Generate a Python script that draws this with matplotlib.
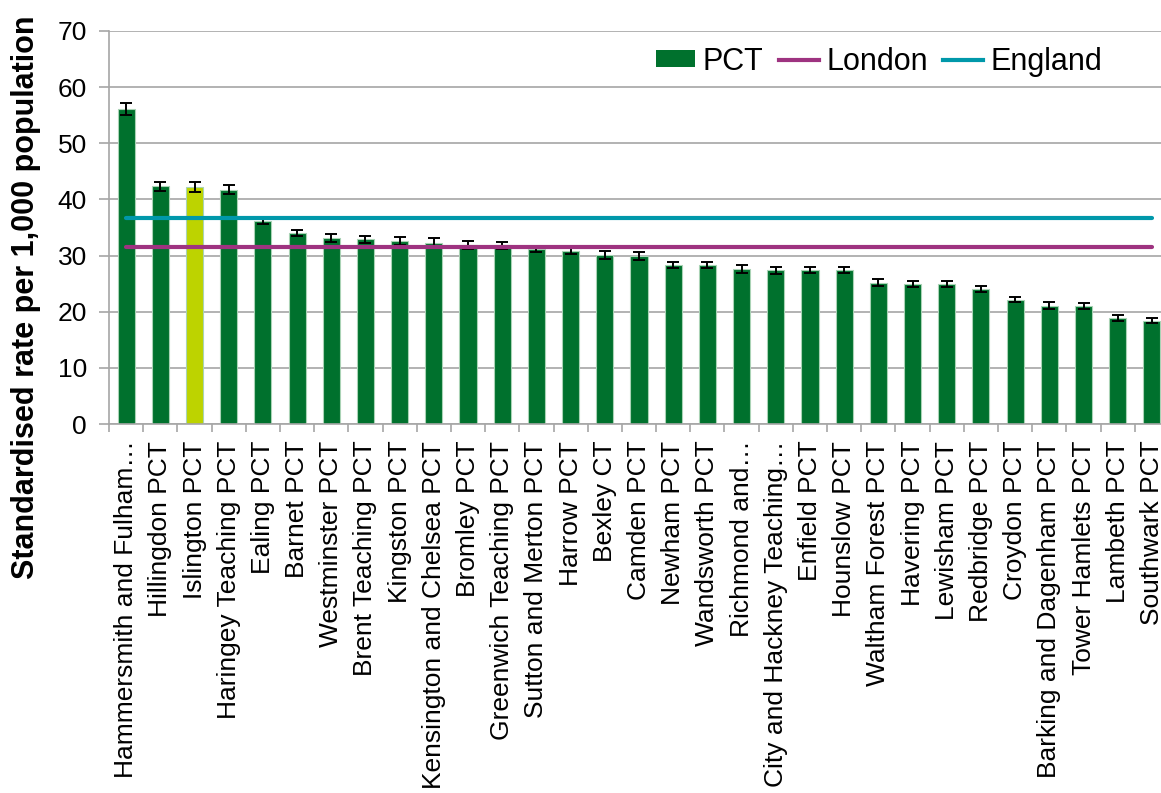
import numpy as np
import matplotlib
matplotlib.use('Agg')
import matplotlib.pyplot as plt
from matplotlib.patches import Patch
from matplotlib.lines import Line2D

plt.rcParams['font.family'] = ['Liberation Sans', 'DejaVu Sans']

# Data
pcts = ['Hammersmith and Fulham\u2026', 'Hillingdon PCT', 'Islington PCT',
        'Haringey Teaching PCT', 'Ealing PCT', 'Barnet PCT', 'Westminster PCT',
        'Brent Teaching PCT', 'Kingston PCT', 'Kensington and Chelsea PCT',
        'Bromley PCT', 'Greenwich Teaching PCT', 'Sutton and Merton PCT',
        'Harrow PCT', 'Bexley CT', 'Camden PCT', 'Newham PCT', 'Wandsworth PCT',
        'Richmond and\u2026', 'City and Hackney Teaching\u2026', 'Enfield PCT',
        'Hounslow PCT', 'Waltham Forest PCT', 'Havering PCT', 'Lewisham PCT',
        'Redbridge PCT', 'Croydon PCT', 'Barking and Dagenham PCT',
        'Tower Hamlets PCT', 'Lambeth PCT', 'Southwark PCT']
rates = [56.1, 42.3, 42.2, 41.7, 36.1, 34.0, 33.1, 32.9, 32.6, 32.3,
         31.9, 31.8, 31.1, 30.8, 30.1, 29.9, 28.3, 28.3, 27.6, 27.4,
         27.4, 27.4, 25.2, 25.0, 24.9, 24.0, 22.1, 21.1, 21.0, 18.9, 18.4]
errors = [1.1, 0.75, 0.95, 0.8, 0.5, 0.55, 0.7, 0.65, 0.75, 0.8,
          0.7, 0.7, 0.55, 0.6, 0.7, 0.75, 0.5, 0.55, 0.75, 0.65,
          0.55, 0.55, 0.55, 0.55, 0.5, 0.5, 0.45, 0.55, 0.55, 0.5, 0.5]
london = 31.6
england = 36.7
highlight = 'Islington PCT'

green = '#00712D'
lime = '#BDD300'
purple = '#9E3380'
teal = '#0098AA'
grey = '#A6A6A6'

fig = plt.figure(figsize=(11.61, 7.93), dpi=100)
# right edge runs slightly past the figure, as in the original (Southwark is clipped)
ax = fig.add_axes([0.0939, 0.4653, 0.913, 0.4957])

x = np.arange(len(pcts))
colors = [lime if p == highlight else green for p in pcts]
ax.bar(x, rates, width=0.5, color=colors, edgecolor='#A9D3B5', linewidth=0.8, zorder=2)
ax.errorbar(x, rates, yerr=errors, fmt='none', ecolor='black', elinewidth=1.4,
            capsize=4, capthick=1.4, zorder=3)
ax.plot(x, [london] * len(x), color=purple, lw=3, solid_capstyle='round', zorder=4)
ax.plot(x, [england] * len(x), color=teal, lw=3, solid_capstyle='round', zorder=4)

ax.set_xlim(-0.5, len(pcts) - 0.5)
ax.set_ylim(0, 70)
ax.set_yticks(range(0, 71, 10))
ax.yaxis.grid(True, color=grey, lw=1.2)
ax.set_axisbelow(True)

ax.set_xticks(x)
ax.set_xticklabels(pcts, rotation=90, fontsize=19)
ax.tick_params(axis='x', which='major', length=0, pad=12)
ax.set_xticks(np.arange(-0.5, len(pcts), 1), minor=True)
ax.tick_params(axis='x', which='minor', length=6, color=grey, width=1.2)
ax.tick_params(axis='y', length=7, color=grey, width=1.2, labelsize=19, pad=9)

for s in ['top', 'right']:
    ax.spines[s].set_visible(False)
for s in ['left', 'bottom']:
    ax.spines[s].set_color(grey)
    ax.spines[s].set_linewidth(1.2)

fig.text(26 / 1161, 1 - 297 / 793, 'Standardised rate per 1,000 population',
         rotation=90, ha='center', va='center', fontsize=22, fontweight='bold')

handles = [Patch(facecolor=green, edgecolor='none'),
           Line2D([], [], color=purple, lw=3),
           Line2D([], [], color=teal, lw=3)]
ax.legend(handles, ['PCT', 'London', 'England'], ncol=3, frameon=False,
          fontsize=22, loc='upper right', bbox_to_anchor=(0.963, 1.03),
          handlelength=1.3, handleheight=0.5, handletextpad=0.25,
          columnspacing=0.5)

fig.savefig('out.png', dpi=100)
